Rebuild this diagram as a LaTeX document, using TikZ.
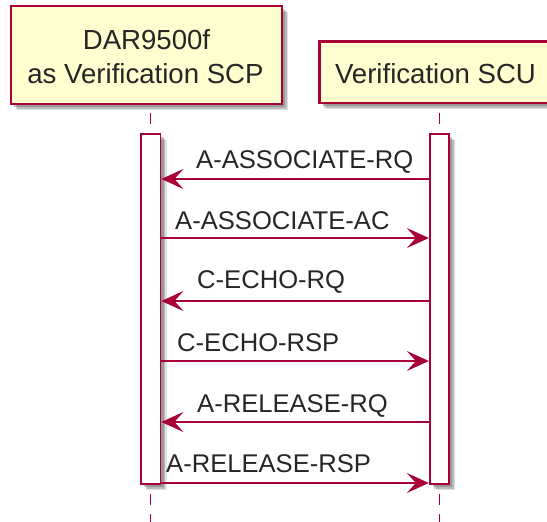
\documentclass[tikz,border=0pt]{standalone}
\usepackage{fontspec}
\setmainfont{Liberation Sans}
\usetikzlibrary{arrows.meta,shadows}
\definecolor{puRed}{HTML}{A80036}
\definecolor{puFill}{HTML}{FEFECE}
\begin{document}
\begin{tikzpicture}[x=1pt,y=-1pt,
  shadowed/.style={
    general shadow={shadow xshift=6pt, shadow yshift=-6pt, fill=black!60, opacity=.2},
    general shadow={shadow xshift=4.5pt, shadow yshift=-4.5pt, fill=black!60, opacity=.3},
    general shadow={shadow xshift=3pt, shadow yshift=-3pt, fill=black!60, opacity=.4}},
  partbox/.style={draw=puRed, line width=2.2pt, fill=puFill, shadowed, inner sep=0pt, rectangle},
  parttext/.style={font=\fontsize{27.6}{34}\selectfont, inner sep=0pt, anchor=base, text=black!85},
  msgtext/.style={font=\fontsize{25.6}{30}\selectfont, inner sep=0pt, anchor=base west, text=black!85},
  actbar/.style={draw=puRed, line width=1.8pt, fill=white, shadowed, inner sep=0pt, rectangle, minimum width=19.5pt, minimum height=350pt},
  lifeline/.style={draw=puRed, line width=1.6pt, dash pattern=on 11pt off 9pt},
  msg/.style={draw=puRed, line width=1.6pt, -{Stealth[length=22pt, width=20pt, inset=9pt]}}
]
\useasboundingbox (0,0) rectangle (547,522);

% participants
\node[partbox, minimum width=271pt, minimum height=98pt] (pA) at (146.5,55) {};
\node[parttext] (pA1) at (146.5,49) {DAR9500f};
\node[parttext] (pA2) at (145.5,83) {as Verification SCP};
\node[partbox, minimum width=233.5pt, minimum height=61.5pt] (pB) at (436.25,72.25) {};
\node[parttext] (pB1) at (435.5,83) {Verification SCU};

% lifeline coordinates
\coordinate (lAt) at (150.5,113);
\coordinate (lAm) at (150.5,134);
\coordinate (lAb0) at (150.5,494);
\coordinate (lAb) at (150.5,524);
\coordinate (lBt) at (439.5,113);
\coordinate (lBm) at (439.5,134);
\coordinate (lBb0) at (439.5,494);
\coordinate (lBb) at (439.5,524);
\draw[lifeline] (lAt) -- (lAm);
\draw[lifeline] (lBt) -- (lBm);
\draw[lifeline] (lAb0) -- (lAb);
\draw[lifeline] (lBb0) -- (lBb);

% activation bars
\node[actbar] (barA) at (150.75,309) {};
\node[actbar] (barB) at (439.5,309) {};

% message end points
\foreach \n/\y in {1/179,2/238,3/301,4/361,5/422,6/483}{
  \coordinate (a\n) at (barA.east |- 0,\y);
  \coordinate (b\n) at (barB.west |- 0,\y);
}
\draw[msg] (b1) -- (a1);
\draw[msg] (a2) -- (b2);
\draw[msg] (b3) -- (a3);
\draw[msg] (a4) -- (b4);
\draw[msg] (b5) -- (a5);
\draw[msg] (a6) -- (b6);

\node[msgtext] (m1) at (196,168) {A-ASSOCIATE-RQ};
\node[msgtext] (m2) at (175,229) {A-ASSOCIATE-AC};
\node[msgtext] (m3) at (197,288) {C-ECHO-RQ};
\node[msgtext] (m4) at (177,351) {C-ECHO-RSP};
\node[msgtext] (m5) at (197,412) {A-RELEASE-RQ};
\node[msgtext] (m6) at (166,472) {A-RELEASE-RSP};
\end{tikzpicture}
\end{document}
